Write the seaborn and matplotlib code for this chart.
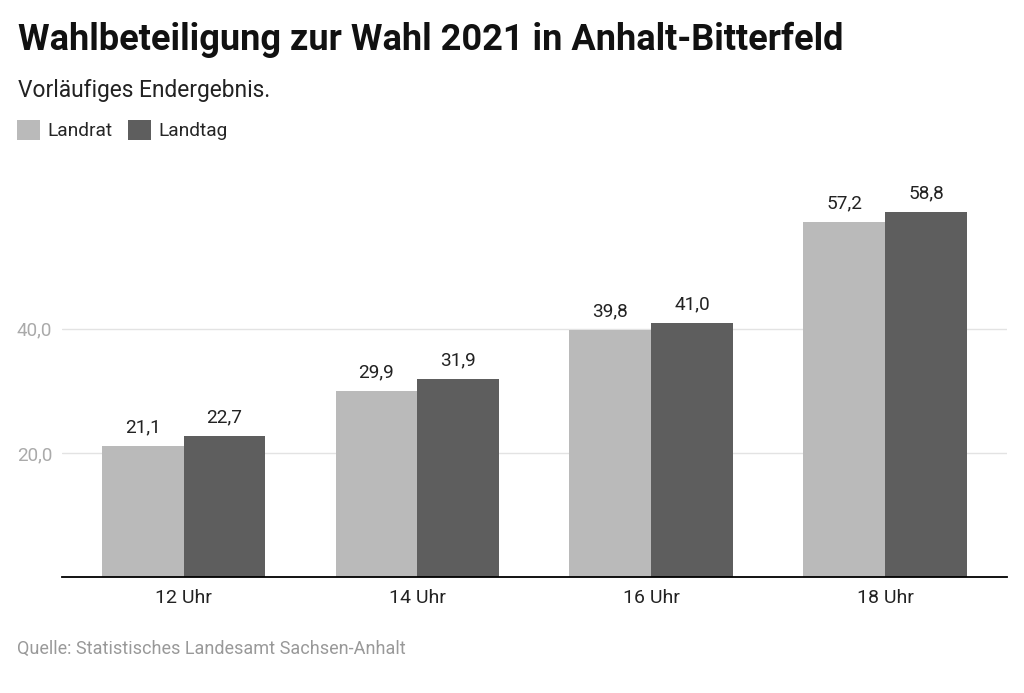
import matplotlib
matplotlib.use("Agg")
import matplotlib.pyplot as plt
import pandas as pd
import seaborn as sns

# values
zeiten = ["12 Uhr", "14 Uhr", "16 Uhr", "18 Uhr"]
landrat = [21.1, 29.9, 39.8, 57.2]
landtag = [22.7, 31.9, 41.0, 58.8]
serien = ["Landrat", "Landtag"]
farben = ["#bababa", "#5e5e5e"]
y_ticks = [20, 40]

df = pd.DataFrame({
    "zeit": zeiten * 2,
    "wert": landrat + landtag,
    "wahl": [serien[0]] * len(zeiten) + [serien[1]] * len(zeiten),
})

sns.set_theme(style="white")
plt.rcParams["font.family"] = ["Roboto", "DejaVu Sans"]

fig = plt.figure(figsize=(10.24, 6.93), dpi=100)
ax = fig.add_axes([0.0605, 0.1674, 0.9225, 0.5873])

sns.barplot(data=df, x="zeit", y="wert", hue="wahl", palette=farben,
            width=0.7, saturation=1, linewidth=0, ax=ax, legend=True)

for container in ax.containers:
    ax.bar_label(container,
                 labels=[f"{b.get_height():.1f}".replace(".", ",") for b in container],
                 padding=7, fontsize=13.7, color="#222222")

ax.set_xlim(-0.52, 3.52)
ax.set_ylim(0, 65.6)
ax.set_yticks(y_ticks)
ax.set_yticklabels([f"{t:.1f}".replace(".", ",") for t in y_ticks])
ax.yaxis.grid(True, color="#e3e3e3", linewidth=1)
ax.set_axisbelow(True)
ax.set_xlabel("")
ax.set_ylabel("")
ax.tick_params(axis="y", length=0, pad=7, labelsize=13.6, labelcolor="#aaaaaa")
ax.tick_params(axis="x", length=0, pad=9, labelsize=14, labelcolor="#222222")
for side in ["top", "right", "left"]:
    ax.spines[side].set_visible(False)
ax.spines["bottom"].set_color("#000000")
ax.spines["bottom"].set_linewidth(1.3)

handles, labels = ax.get_legend_handles_labels()
ax.get_legend().remove()
fig.legend(handles, labels, loc="upper left", bbox_to_anchor=(0.0166, 0.827),
           frameon=False, ncol=2, fontsize=13.8, borderpad=0, borderaxespad=0,
           handlelength=1.2, handleheight=1.2, handletextpad=0.4,
           columnspacing=0.8)

fig.text(0.0176, 0.928, "Wahlbeteiligung zur Wahl 2021 in Anhalt-Bitterfeld",
         fontsize=26, fontweight="bold", color="#111111", va="baseline")
fig.text(0.0176, 0.860, "Vorläufiges Endergebnis.",
         fontsize=16.4, color="#222222", va="baseline")
fig.text(0.0166, 0.0563, "Quelle: Statistisches Landesamt Sachsen-Anhalt",
         fontsize=13, color="#999999", va="baseline")

fig.savefig("out.png", dpi=100)
